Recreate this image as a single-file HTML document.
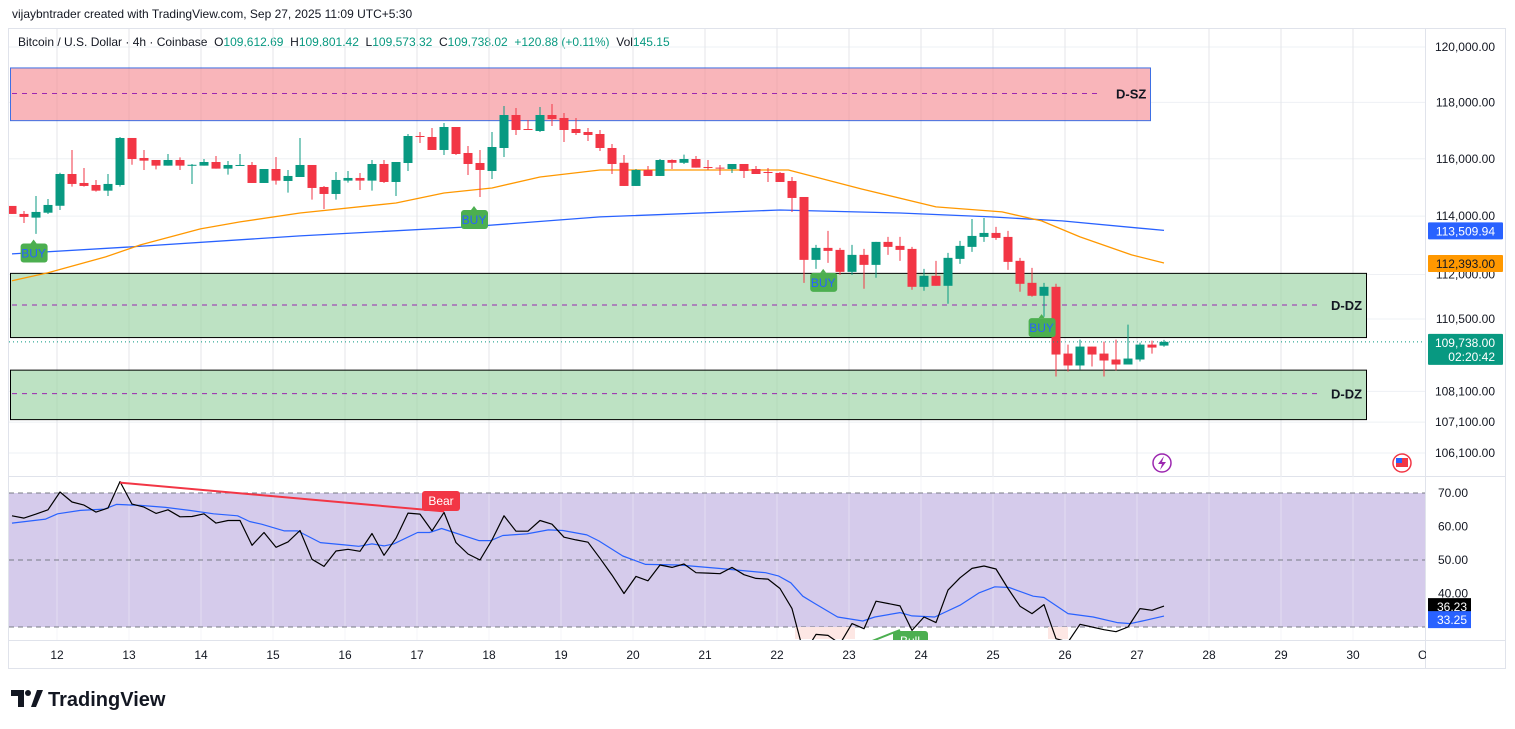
<!DOCTYPE html>
<html><head><meta charset="utf-8"><style>
body{margin:0;width:1515px;height:729px;background:#fff;overflow:hidden;font-family:"Liberation Sans",sans-serif;}
svg{position:absolute;left:0;top:0}
text{font-family:"Liberation Sans",sans-serif}
</style></head><body>
<svg id="c" width="1515" height="729"></svg>
<script>
const opens=[114354,114077,113950,114120,114360,115467,115153,115083,114885,115083,116735,116029,115958,115760,115958,115760,115760,115888,115655,115760,115783,115153,115642,115223,115362,115783,115013,114770,115235,115328,115235,115818,115188,115853,116805,116770,116311,117124,116205,115853,115573,116381,117551,117053,116982,117551,117444,117053,116947,116876,116381,115860,115049,115608,115398,115958,115860,115993,115712,115690,115642,115818,115642,115537,115503,115223,114665,112499,112909,112840,112091,112670,112329,113114,112977,112874,111584,111956,111618,112533,112943,113285,113422,113285,112466,111719,111281,111584,109348,108954,109580,109348,109151,108986,109151,109646,109613];
const closes=[114077,113974,114146,114388,115467,115119,115049,114885,115119,116735,115993,115935,115760,115958,115760,115790,115888,115655,115783,115783,115153,115642,115235,115398,115783,114979,114770,115258,115328,115235,115818,115188,115888,116805,116770,116311,117124,116169,115818,115608,116416,117551,117018,117018,117551,117409,117018,116911,116841,116381,115818,115049,115608,115398,115958,115860,115993,115690,115690,115655,115818,115573,115467,115503,115188,114631,112499,112909,112806,112091,112670,112329,113114,112943,112840,111584,111956,111618,112568,112977,113319,113422,113251,112431,111686,111281,111584,109316,108954,109580,109316,109118,108986,109183,109646,109547,109738];
const highs=[114354,114180,114701,114597,115510,116311,115678,115258,115467,116770,116735,116311,115958,116169,116050,115818,115993,116099,115924,116169,115888,115642,116064,115608,116735,115783,115049,115537,115573,115503,115958,115958,115888,116876,116947,117088,117266,117124,116451,116311,116947,117872,117801,117373,117837,117944,117622,117444,117088,117018,116522,116134,115642,115748,115993,115980,116145,116099,115958,115783,115818,115818,115748,115678,115537,115362,114665,113011,113491,112909,113011,112874,113114,113285,113285,112943,112193,112466,112738,113148,113904,113938,113629,113491,112568,112228,111719,111686,109646,109812,109580,109745,109812,110311,109713,109778,109801];
const lows=[114077,113766,113388,114077,114215,115025,115025,114850,114701,115025,115790,115608,115630,115760,115608,115119,115760,115655,115445,115760,115153,115153,115095,114815,115362,114573,114250,114573,115165,114909,114885,115153,114701,115573,116558,116311,116134,116134,115432,114665,115293,116064,116841,117018,116947,117159,116593,116841,116628,116275,115467,115049,115049,115398,115398,115642,115818,115690,115608,115432,115503,115328,115467,115188,115188,114146,111719,112193,112398,111990,111990,111517,111889,112670,112466,111483,111450,111618,111013,112363,112772,113114,113183,112160,111415,111247,110577,108592,108756,108822,108920,108592,108789,108986,109085,109348,109573];
const maIdx=[0,3,7.8,10.7,15.7,19,24,32,36,40,44,49,64.7,70.8,77,82.5,85.8,89,93.3,96];
const emaFast=[111787,112058,112601,113011,113560,113801,114111,114457,114805,114979,115362,115608,115608,114944,114319,114146,113835,113285,112670,112393];
const slowIdx=[0,9.9,24,38,49,64,74,81.6,87.5,96];
const emaSlow=[112704,112943,113319,113629,113974,114215,114111,113974,113835,113510];
const rsi=[63.2,62.5,63.7,65,70.3,67.3,66.4,64.3,65.5,73.4,66.7,65.8,63.9,65,62.9,63,63.8,61,61.8,61.8,54.4,58.2,53.8,55.4,58.8,50.2,48.1,52.7,53.2,52.6,57.9,51.4,56.5,64,63.7,58.7,64.2,55.2,51.8,50,56,63.2,58.6,58.6,61.8,60.7,56.8,56,55.3,50.5,45.5,40,45.1,43.8,48.5,47.8,48.8,46.2,46.1,45.9,47.8,45.6,44.5,44.3,41.5,35.5,22,27.8,27.5,25,31,29.5,37.7,37,36.3,29,33,31.3,41,44.7,47.5,48.2,47.3,41.5,36.2,34,36.7,26.5,25.5,30.8,30,29.2,28.6,30,35.5,35,36.23];
const rsiMaIdx=[0,2.8,3.8,5.7,7.7,8.7,10.7,12.8,14.8,16.8,18.8,19.8,20.8,22.7,23.8,25.7,27.7,28.9,30,31,31.8,33.8,34.8,35.8,38.9,39.9,40.9,42.9,44.7,45.9,47.9,48.9,50.9,52.8,55.6,58.9,62.8,63.9,64.9,65.9,66.9,68.8,70.9,71.9,74,75,76.9,79,80.6,81.9,83.1,85.1,86,88,90.1,92.1,93.2,94.2,96];
const rsiMa=[61,62.2,63.8,64.8,65.2,66.6,66.3,65.7,64.8,63.8,63.2,61.5,60.7,58.7,58.7,55.2,54.5,54.1,54.8,54.2,54.8,58.2,58.2,59.4,55.8,55.8,57.3,57.8,59,58.8,57.5,55.7,51.2,48.7,48.5,47.5,46.2,45.2,43.2,39.2,37,33,31.8,33,34.3,33.3,33,36.5,40.2,42,41.8,39.2,38.8,34,33,31.3,31,31.8,33.25];
const priceTicks=[120000,118000,116000,114000,112000,110500,108100,107100,106100];
const rsiTicks=[70,60,50,40];
const dayTicks=[12,13,14,15,16,17,18,19,20,21,22,23,24,25,26,27,28,29,30];
const buyIdx=[1.8,38.5,67.6,85.8];
const buyPrice=[112750,113900,111750,110230];

const S=document.getElementById('c'),NS='http://www.w3.org/2000/svg';
function mk(t,a,p,txt){const e=document.createElementNS(NS,t);for(const k in a)e.setAttribute(k,a[k]);if(txt!=null)e.textContent=txt;(p||S).appendChild(e);return e;}
const tOf=i=>11.375+i/6;
const xT=t=>57+(t-12)*72;
const xI=i=>xT(tOf(i));
const yP=p=>47+3298*Math.log(120000/p);
const yR=v=>493+(70-v)*3.35;
const fmt=v=>v.toLocaleString('en-US',{minimumFractionDigits:2,maximumFractionDigits:2});

let e;
e=mk('rect',{x:8.5,y:28.5,width:1497,height:640,fill:'none',stroke:'#e0e3eb'});
mk('line',{x1:8,y1:476.5,x2:1505,y2:476.5,stroke:'#e0e3eb'});
mk('line',{x1:1425.5,y1:28,x2:1425.5,y2:668,stroke:'#e0e3eb'});
mk('line',{x1:8,y1:640.5,x2:1505,y2:640.5,stroke:'#e0e3eb'});
e=mk('text',{x:12,y:18,'font-size':12,fill:'#131722'},null,'vijaybntrader created with TradingView.com, Sep 27, 2025 11:09 UTC+5:30');
const lg=mk('text',{x:18,y:46,'font-size':12,fill:'#131722'});
[['Bitcoin / U.S. Dollar · 4h · Coinbase  O','#131722'],['109,612.69','#089981'],['  H','#131722'],['109,801.42','#089981'],['  L','#131722'],['109,573.32','#089981'],['  C','#131722'],['109,738.02','#089981'],['  +120.88 (+0.11%)','#089981'],['  Vol','#131722'],['145.15','#089981']].forEach(([s,c])=>{mk('tspan',{fill:c},lg,s);});
lg.style.whiteSpace='pre';

const defs=mk('defs',{});
const cp=mk('clipPath',{id:'mainc'},defs);mk('rect',{x:9,y:29,width:1416,height:447},cp);
const cp2=mk('clipPath',{id:'rsic'},defs);mk('rect',{x:9,y:477,width:1416,height:163},cp2);
const GR=mk('g',{});
const G=mk('g',{'clip-path':'url(#mainc)'});
const R=mk('g',{'clip-path':'url(#rsic)'});

dayTicks.forEach(d=>{mk('line',{x1:xT(d),y1:29,x2:xT(d),y2:640,stroke:'#eef0f4'},GR);});
priceTicks.forEach(p=>{mk('line',{x1:9,y1:yP(p),x2:1425,y2:yP(p),stroke:'#eef0f4'},GR);});

e=mk('rect',{x:10.5,y:yP(119240),width:1140,height:yP(117350)-yP(119240),fill:'#f9b5ba',stroke:'#3d6fe4'},G);
mk('line',{x1:12,y1:yP(118320),x2:1100,y2:yP(118320),stroke:'#9c27b0','stroke-dasharray':'5 5'},G);
e=mk('text',{x:1116,y:yP(118320)+5,'font-size':13,'font-weight':'bold',fill:'#131722'},G,'D-SZ');
e=mk('rect',{x:10.5,y:yP(112040),width:1356,height:yP(109880)-yP(112040),fill:'#bde2c3',stroke:'#000'},G);
mk('line',{x1:12,y1:yP(110970),x2:1320,y2:yP(110970),stroke:'#9c27b0','stroke-dasharray':'5 5'},G);
e=mk('text',{x:1331,y:yP(110970)+5,'font-size':13,'font-weight':'bold',fill:'#131722'},G,'D-DZ');
e=mk('rect',{x:10.5,y:yP(108800),width:1356,height:yP(107180)-yP(108800),fill:'#bde2c3',stroke:'#000'},G);
mk('line',{x1:12,y1:yP(108030),x2:1320,y2:yP(108030),stroke:'#9c27b0','stroke-dasharray':'5 5'},G);
e=mk('text',{x:1331,y:yP(108030)+5,'font-size':13,'font-weight':'bold',fill:'#131722'},G,'D-DZ');

// faint grid over zones (zones are semi-transparent in the original)
dayTicks.forEach(d=>{mk('line',{x1:xT(d),y1:29,x2:xT(d),y2:476,stroke:'#000','stroke-opacity':0.04},G);});

function poly(xs,ys,col,w,p,name){const pts=xs.map((x,k)=>x.toFixed(1)+','+ys[k].toFixed(1)).join(' ');const el=mk('polyline',{points:pts,fill:'none',stroke:col,'stroke-width':w,'stroke-linejoin':'round'},p);return el;}
poly(slowIdx.map(xI),emaSlow.map(yP),'#2962ff',1.3,G,'ema-slow-line');
poly(maIdx.map(xI),emaFast.map(yP),'#ff9800',1.3,G,'ema-fast-line');

opens.forEach((o,i)=>{const c=closes[i],up=c>=o,col=up?'#089981':'#f23645',x=xI(i);
 const g=mk('g',{},G);
 mk('line',{x1:x,y1:yP(highs[i]),x2:x,y2:yP(lows[i]),stroke:col,'stroke-width':1},g);
 const y1=yP(Math.max(o,c)),y2=yP(Math.min(o,c));
 mk('rect',{x:x-4.5,y:y1,width:9,height:Math.max(1,y2-y1),fill:col},g);});

buyIdx.forEach((bi,k)=>{const x=xI(bi),y=yP(buyPrice[k]);const g=mk('g',{},G);
 mk('rect',{x:x-13,y:y-9,width:27,height:19,rx:3,fill:'#4caf50'},g);mk('path',{d:`M${x-3} ${y-9}L${x} ${y-13}L${x+3} ${y-9}Z`,fill:'#4caf50'},g);
 mk('text',{x:x,y:y+5,'font-size':12,fill:'#2962ff','text-anchor':'middle'},g,'BUY');});

const lp=closes[closes.length-1];
mk('line',{x1:9,y1:yP(lp),x2:1425,y2:yP(lp),stroke:'#089981','stroke-dasharray':'1 3'});

e=mk('g',{});
mk('circle',{cx:1162,cy:463,r:9,fill:'#fff',stroke:'#9c27b0','stroke-width':1.5},e);mk('path',{d:'M1164 456L1158 464H1162L1160 470L1166 462H1162Z',fill:'#9c27b0'},e);
e=mk('g',{});
mk('circle',{cx:1402,cy:463,r:9,fill:'#fff',stroke:'#f23645','stroke-width':1.5},e);mk('rect',{x:1396,y:458,width:12,height:9,fill:'#f23645'},e);mk('rect',{x:1396,y:458,width:6,height:5,fill:'#2962ff'},e);

priceTicks.forEach(p=>{const t=mk('text',{x:1495,y:yP(p)+4,'font-size':12,fill:'#131722','text-anchor':'end'},null,fmt(p));});
function tag(y,h,bg,lines,fg,name){const g=mk('g',{});mk('rect',{x:1428,y:y,width:75,height:h,fill:bg,rx:1},g);lines.forEach((s,k)=>mk('text',{x:1495,y:y+13+k*14,'font-size':12,fill:fg,'text-anchor':'end'},g,s));}
tag(yP(emaSlow[emaSlow.length-1])-8,17,'#2962ff',['113,509.94'],'#fff','ema-slow-price-tag');
tag(yP(emaFast[emaFast.length-1])-8,17,'#ff9800',[fmt(emaFast[emaFast.length-1])],'#131722','ema-fast-price-tag');
tag(yP(lp)-8,31,'#089981',[fmt(lp),'02:20:42'],'#fff','last-price-tag');

mk('rect',{x:9,y:yR(70),width:1416,height:yR(30)-yR(70),fill:'#d5cbeb'},R);
dayTicks.forEach(d=>{mk('line',{x1:xT(d),y1:477,x2:xT(d),y2:640,stroke:'#fff','stroke-opacity':0.35},R);});
[70,50,30].forEach(v=>mk('line',{x1:9,y1:yR(v),x2:1425,y2:yR(v),stroke:'#787b86','stroke-dasharray':'5 4'},R));
mk('rect',{x:795,y:yR(30),width:60,height:12,fill:'#fde7e4'},R);mk('rect',{x:1048,y:yR(30),width:20,height:12,fill:'#fde7e4'},R);
poly(rsiMaIdx.map(xI),rsiMa.map(yR),'#2962ff',1.2,R,'rsi-ma-line');
poly(rsi.map((v,i)=>xI(i)),rsi.map(yR),'#000',1.2,R,'rsi-line');
e=mk('line',{x1:xI(9),y1:yR(73.4)+1,x2:xI(36),y2:yR(64.2)-1,stroke:'#f23645','stroke-width':2},R);
e=mk('g',{},R);
mk('rect',{x:422,y:491,width:38,height:20,rx:3,fill:'#f23645'},e);mk('text',{x:441,y:505,'font-size':12,fill:'#fff','text-anchor':'middle'},e,'Bear');
e=mk('line',{x1:xI(69),y1:yR(25)+10,x2:xI(74),y2:yR(30)+3,stroke:'#4caf50','stroke-width':2},R);
e=mk('g',{},R);
mk('rect',{x:893,y:631,width:35,height:20,rx:3,fill:'#4caf50'},e);mk('text',{x:910,y:645,'font-size':12,fill:'#fff','text-anchor':'middle'},e,'Bull');
rsiTicks.forEach(v=>{const t=mk('text',{x:1438,y:yR(v)+4,'font-size':12,fill:'#131722'},null,v.toFixed(2));});
function rtag(v,yv,bg,name){const g=mk('g',{});mk('rect',{x:1428,y:yR(yv)-8,width:43,height:17,fill:bg},g);mk('text',{x:1467,y:yR(yv)+5,'font-size':12,fill:'#fff','text-anchor':'end'},g,v.toFixed(2));}
rtag(rsi[rsi.length-1],rsi[rsi.length-1],'#000','rsi-value-tag');
rtag(rsiMa[rsiMa.length-1],rsiMa[rsiMa.length-1]-0.9,'#2962ff','rsi-ma-value-tag');
dayTicks.forEach(d=>{const t=mk('text',{x:xT(d),y:659,'font-size':12,fill:'#131722','text-anchor':'middle'},null,String(d));});
e=mk('text',{x:1418,y:659,'font-size':12,fill:'#131722'},null,'Oc');
mk('rect',{x:1426,y:641,width:79,height:27,fill:'#fff'});
e=mk('g',{});
mk('path',{d:'M11 690H24V707H18V696H11Z',fill:'#131722'},e);mk('circle',{cx:28,cy:693,r:3,fill:'#131722'},e);mk('path',{d:'M31 707L37 690H43L36 707Z',fill:'#131722'},e);
mk('text',{x:48,y:706,'font-size':20,'font-weight':'bold',fill:'#131722'},e,'TradingView');
</script>
</body></html>
